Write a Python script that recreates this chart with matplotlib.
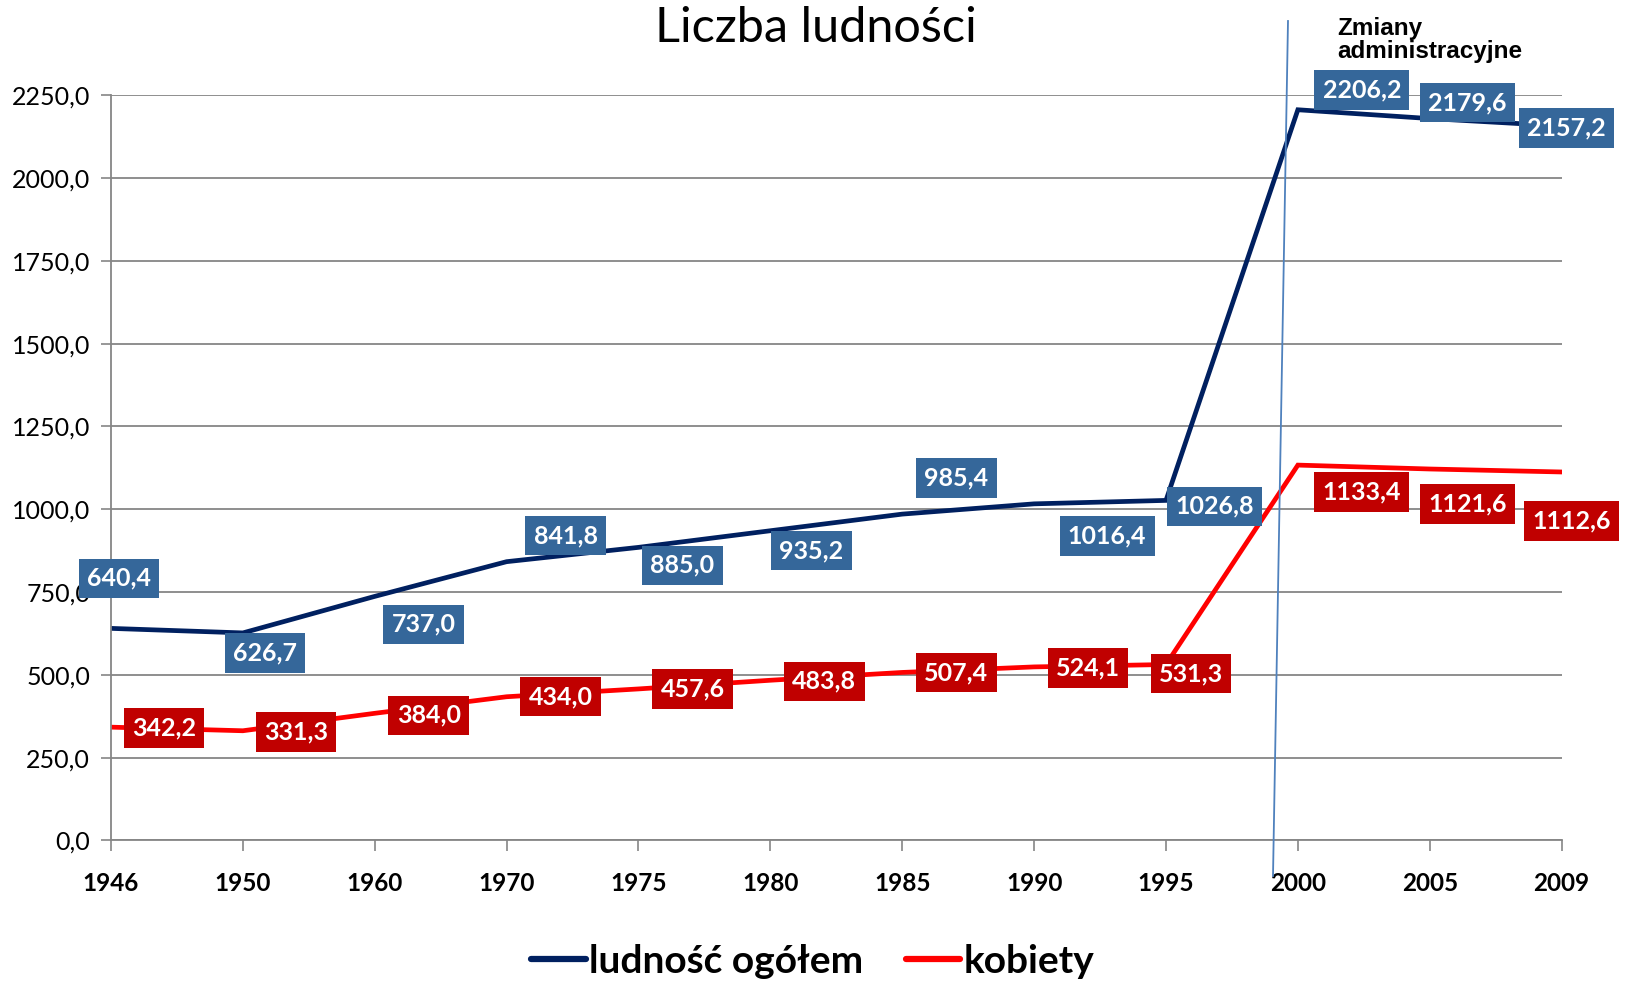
# Liczba ludności - wykres liniowy z etykietami danych

import matplotlib.pyplot as plt
from matplotlib.lines import Line2D

years = ['1946', '1950', '1960', '1970', '1975', '1980', '1985', '1990', '1995', '2000', '2005', '2009']
ogolem = [640.4, 626.7, 737.0, 841.8, 885.0, 935.2, 985.4, 1016.4, 1026.8, 2206.2, 2179.6, 2157.2]
kobiety = [342.2, 331.3, 384.0, 434.0, 457.6, 483.8, 507.4, 524.1, 531.3, 1133.4, 1121.6, 1112.6]

# label offsets in pixels (dx, dy)
off_ogolem = [(8, 50), (22, -20), (49, -28), (59, 26), (44, -18), (41, -20),
              (54, 36), (73, -32), (49, -6), (64, 20), (38, 16), (5, -2)]
off_kobiety = [(53, -1), (53, -1), (54, -2), (54, 0), (54, 0), (54, -1),
               (54, 0), (54, -1), (25, -9), (64, -27), (38, -35), (10, -49)]

FONT = 'Lato'
NAVY = '#002060'
RED = '#FF0000'
BOX_BLUE = '#35679A'
BOX_RED = '#C00000'


def main():
    fig = plt.figure(figsize=(16.25, 9.82), dpi=100)
    ax = fig.add_axes([0.0683, 0.1441, 0.8927, 0.7589])

    x = list(range(len(years)))
    ax.plot(x, ogolem, color=NAVY, lw=3.4, label='ludność ogółem', solid_joinstyle='miter')
    ax.plot(x, kobiety, color=RED, lw=3.4, label='kobiety', solid_joinstyle='miter')

    for xi, v, (dx, dy) in zip(x, ogolem, off_ogolem):
        ax.annotate(f'{v:.1f}'.replace('.', ','), (xi, v), xytext=(dx, dy),
                    textcoords='offset pixels', ha='center', va='center',
                    color='white', fontsize=18, fontweight='bold', family=FONT,
                    bbox=dict(boxstyle='square,pad=0.33', fc=BOX_BLUE, ec='none'),
                    annotation_clip=False, zorder=5)
    for xi, v, (dx, dy) in zip(x, kobiety, off_kobiety):
        ax.annotate(f'{v:.1f}'.replace('.', ','), (xi, v), xytext=(dx, dy),
                    textcoords='offset pixels', ha='center', va='center',
                    color='white', fontsize=18, fontweight='bold', family=FONT,
                    bbox=dict(boxstyle='square,pad=0.33', fc=BOX_RED, ec='none'),
                    annotation_clip=False, zorder=5)

    ax.set_xlim(0, len(years) - 1)
    ax.set_ylim(0, 2250)
    ax.set_yticks(range(0, 2251, 250))
    ax.set_yticklabels([f'{t},0' for t in range(0, 2251, 250)], fontsize=18, family=FONT)
    ax.set_xticks(x)
    ax.set_xticklabels(years, fontsize=17.5, fontweight='bold', family=FONT)
    ax.tick_params(axis='x', length=8, width=1.2, color='#868686', pad=15)
    ax.tick_params(axis='y', length=7, width=1.2, color='#868686', pad=8)
    ax.grid(axis='y', color='#868686', lw=1.3)
    ax.set_axisbelow(True)
    for s in ['top', 'right']:
        ax.spines[s].set_visible(False)
    for s in ['left', 'bottom']:
        ax.spines[s].set_color('#868686')
        ax.spines[s].set_linewidth(1.3)

    fig.text(0.502, 0.971, 'Liczba ludności', ha='center', va='center',
             fontsize=35, family=FONT)

    # line marking the administrative change
    fig.add_artist(Line2D([1288 / 1625, 1273 / 1625], [1 - 21 / 982, 1 - 876 / 982],
                          transform=fig.transFigure, color='#4F81BD', lw=1.3))
    fig.text(1337 / 1625, 1 - 17 / 982, 'Zmiany\nadministracyjne', ha='left', va='top',
             fontsize=17.5, fontweight='bold', family='Liberation Sans', linespacing=1.0)

    leg = fig.legend(loc='center', bbox_to_anchor=(0.5, 0.021), ncol=2, frameon=False,
                     prop={'family': FONT, 'weight': 'bold', 'size': 28},
                     handlelength=1.4, handletextpad=0.08, columnspacing=1.1)
    for line in leg.get_lines():
        line.set_linewidth(4.5)
        line.set_solid_capstyle('round')

    fig.savefig('out.png', dpi=100)


if __name__ == "__main__":
    main()
